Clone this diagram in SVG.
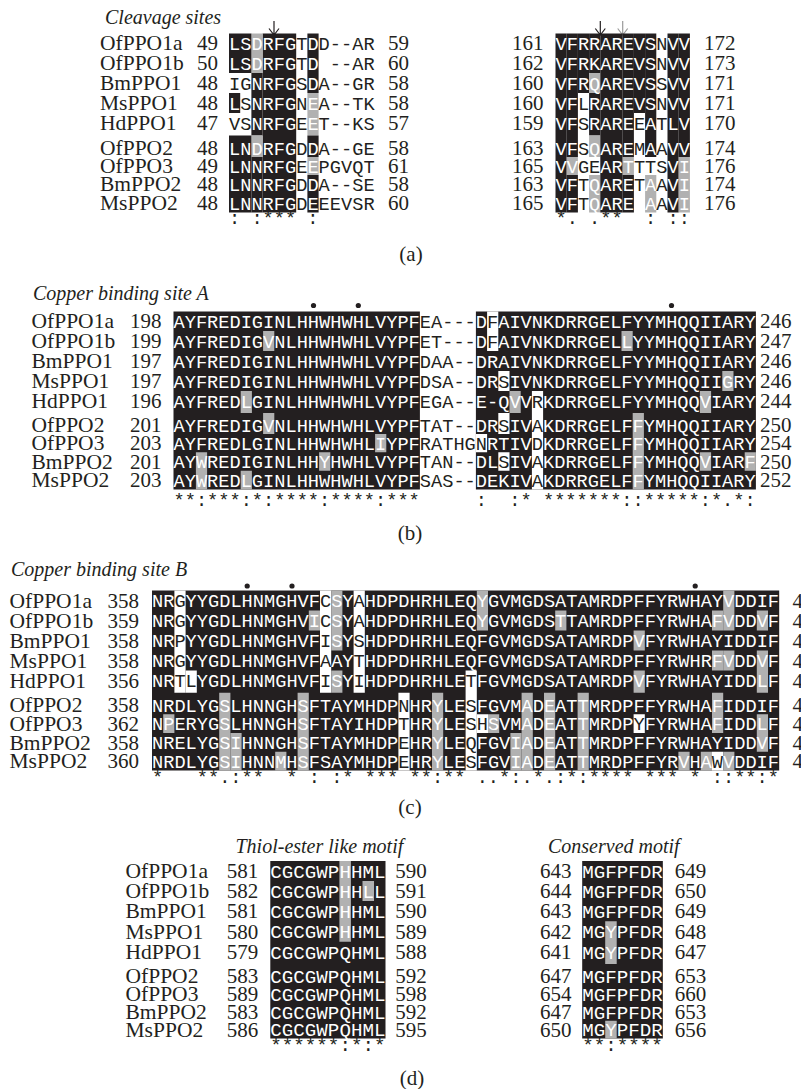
<svg xmlns="http://www.w3.org/2000/svg" width="801" height="1089" viewBox="0 0 801 1089">
<style>
.nm{font-family:"Liberation Serif","Times New Roman",serif;font-size:21.5px;fill:#231f20}
.num{font-family:"Liberation Serif","Times New Roman",serif;font-size:21px;fill:#231f20}
.ttl{font-family:"Liberation Serif","Times New Roman",serif;font-size:20px;font-style:italic;fill:#231f20}
.lbl{font-family:"Liberation Serif","Times New Roman",serif;font-size:21px;fill:#231f20;text-anchor:middle}
.sq{font-family:"Liberation Mono","Courier New",monospace;font-size:18.67px;fill:#231f20;white-space:pre}
.sqd{font-family:"Liberation Mono","Courier New",monospace;font-size:19.2px;fill:#231f20;white-space:pre}
.w{fill:#fff}
.k{fill:#231f20}
.g{fill:#b1b1b1}
.wb{fill:#fff}
.arr{stroke:#231f20;stroke-width:1.2;fill:none}
.arrg{stroke:#9a9a9a;stroke-width:1.2;fill:none}
.dot{fill:#231f20}
</style>

<!-- ================= Panel (a) ================= -->
<g id="panel-a">
<text class="ttl" x="105" y="23.5">Cleavage sites</text>
<g id="a-arrows">
<path class="arr" d="M274 21V35M269 28.5L274 35L279 28.5"/>
<path class="arr" d="M600.3 21V35M595.3 28.5L600.3 35L605.3 28.5"/>
<path class="arrg" d="M622.7 21V35M617.7 28.5L622.7 35L627.7 28.5"/>
</g>
<g id="a-shade-left">
<rect class="k" x="262.6" y="33.5" width="33.6" height="179"/>
<rect class="g" x="251.4" y="33.5" width="11.2" height="39.5"/>
<rect class="k" x="251.4" y="73" width="11.2" height="62.5"/>
<rect class="g" x="251.4" y="135.5" width="11.2" height="21.5"/>
<rect class="k" x="251.4" y="157" width="11.2" height="55.5"/>
<rect class="k" x="229" y="33.5" width="22.4" height="39.5"/>
<rect class="k" x="229" y="93" width="11.2" height="20"/>
<rect class="k" x="229" y="135.5" width="22.4" height="77"/>
<rect class="k" x="307.4" y="33.5" width="11.2" height="59.5"/>
<rect class="g" x="307.4" y="93" width="11.2" height="42.5"/>
<rect class="k" x="307.4" y="135.5" width="11.2" height="21.5"/>
<rect class="g" x="307.4" y="157" width="11.2" height="18"/>
<rect class="k" x="307.4" y="175" width="11.2" height="37.5"/>
</g>
<g id="a-shade-right">
<rect class="k" x="555.5" y="33.5" width="11.2" height="179"/>
<rect class="k" x="566.7" y="33.5" width="11.2" height="123.5"/>
<rect class="g" x="566.7" y="157" width="11.2" height="18"/>
<rect class="k" x="566.7" y="175" width="11.2" height="37.5"/>
<rect class="k" x="577.9" y="33.5" width="11.2" height="59.5"/>
<rect class="k" x="589.1" y="33.5" width="11.2" height="39.5"/>
<rect class="g" x="589.1" y="73" width="11.2" height="20"/>
<rect class="k" x="589.1" y="93" width="11.2" height="42.5"/>
<rect class="g" x="589.1" y="135.5" width="11.2" height="21.5"/>
<rect class="g" x="589.1" y="175" width="11.2" height="37.5"/>
<rect class="k" x="600.3" y="33.5" width="22.4" height="179"/>
<rect class="k" x="622.7" y="33.5" width="11.2" height="123.5"/>
<rect class="g" x="622.7" y="157" width="11.2" height="18"/>
<rect class="k" x="622.7" y="175" width="11.2" height="37.5"/>
<rect class="k" x="633.9" y="33.5" width="11.2" height="79.5"/>
<rect class="k" x="645.1" y="33.5" width="11.2" height="123.5"/>
<rect class="g" x="645.1" y="175" width="11.2" height="37.5"/>
<rect class="k" x="667.5" y="33.5" width="11.2" height="179"/>
<rect class="k" x="678.7" y="33.5" width="11.2" height="123.5"/>
<rect class="g" x="678.7" y="157" width="11.2" height="55.5"/>
</g>
<g id="a-names">
<text class="nm" x="100" y="50">OfPPO1a</text>
<text class="nm" x="100" y="70">OfPPO1b</text>
<text class="nm" x="100" y="90">BmPPO1</text>
<text class="nm" x="100" y="110">MsPPO1</text>
<text class="nm" x="100" y="130">HdPPO1</text>
<text class="nm" x="100" y="155">OfPPO2</text>
<text class="nm" x="100" y="173">OfPPO3</text>
<text class="nm" x="100" y="191">BmPPO2</text>
<text class="nm" x="100" y="210">MsPPO2</text>
</g>
<g id="a-nums">
<text class="num" x="197" y="50">49</text><text class="num" x="388" y="50">59</text><text class="num" x="512" y="50">161</text><text class="num" x="704" y="50">172</text>
<text class="num" x="197" y="70">50</text><text class="num" x="388" y="70">60</text><text class="num" x="512" y="70">162</text><text class="num" x="704" y="70">173</text>
<text class="num" x="197" y="90">48</text><text class="num" x="388" y="90">58</text><text class="num" x="512" y="90">160</text><text class="num" x="704" y="90">171</text>
<text class="num" x="197" y="110">48</text><text class="num" x="388" y="110">58</text><text class="num" x="512" y="110">160</text><text class="num" x="704" y="110">171</text>
<text class="num" x="197" y="130">47</text><text class="num" x="388" y="130">57</text><text class="num" x="512" y="130">159</text><text class="num" x="704" y="130">170</text>
<text class="num" x="197" y="155">48</text><text class="num" x="388" y="155">58</text><text class="num" x="512" y="155">163</text><text class="num" x="704" y="155">174</text>
<text class="num" x="197" y="173">49</text><text class="num" x="388" y="173">61</text><text class="num" x="512" y="173">165</text><text class="num" x="704" y="173">176</text>
<text class="num" x="197" y="191">48</text><text class="num" x="388" y="191">58</text><text class="num" x="512" y="191">163</text><text class="num" x="704" y="191">174</text>
<text class="num" x="197" y="210">48</text><text class="num" x="388" y="210">60</text><text class="num" x="512" y="210">165</text><text class="num" x="704" y="210">176</text>
</g>
<g id="a-seq-left">
<text class="sq" x="229" y="49.5" xml:space="preserve"><tspan class="w">LSDRFG</tspan>T<tspan class="w">D</tspan>D--AR</text>
<text class="sq" x="229" y="69.5" xml:space="preserve"><tspan class="w">LSDRFG</tspan>T<tspan class="w">D</tspan> --AR</text>
<text class="sq" x="229" y="89.5" xml:space="preserve">IG<tspan class="w">NRFG</tspan>S<tspan class="w">D</tspan>A--GR</text>
<text class="sq" x="229" y="109.5" xml:space="preserve"><tspan class="w">L</tspan>S<tspan class="w">NRFG</tspan>N<tspan class="w">E</tspan>A--TK</text>
<text class="sq" x="229" y="129.5" xml:space="preserve">VS<tspan class="w">NRFG</tspan>E<tspan class="w">E</tspan>T--KS</text>
<text class="sq" x="229" y="154.5" xml:space="preserve"><tspan class="w">LNDRFG</tspan>D<tspan class="w">D</tspan>A--GE</text>
<text class="sq" x="229" y="172.5" xml:space="preserve"><tspan class="w">LNNRFG</tspan>E<tspan class="w">E</tspan>PGVQT</text>
<text class="sq" x="229" y="190.5" xml:space="preserve"><tspan class="w">LNNRFG</tspan>D<tspan class="w">D</tspan>A--SE</text>
<text class="sq" x="229" y="209.5" xml:space="preserve"><tspan class="w">LNNRFG</tspan>D<tspan class="w">E</tspan>EEVSR</text>
<text class="sq" x="229" y="224" xml:space="preserve">: :*** :</text>
</g>
<g id="a-seq-right">
<text class="sq" x="555.5" y="49.5" xml:space="preserve"><tspan class="w">VFRRAREVS</tspan>N<tspan class="w">VV</tspan></text>
<text class="sq" x="555.5" y="69.5" xml:space="preserve"><tspan class="w">VFRKAREVS</tspan>N<tspan class="w">VV</tspan></text>
<text class="sq" x="555.5" y="89.5" xml:space="preserve"><tspan class="w">VFRQAREVS</tspan>S<tspan class="w">VV</tspan></text>
<text class="sq" x="555.5" y="109.5" xml:space="preserve"><tspan class="w">VF</tspan>L<tspan class="w">RAREVS</tspan>N<tspan class="w">VV</tspan></text>
<text class="sq" x="555.5" y="129.5" xml:space="preserve"><tspan class="w">VF</tspan>S<tspan class="w">RARE</tspan>E<tspan class="w">A</tspan>T<tspan class="w">LV</tspan></text>
<text class="sq" x="555.5" y="154.5" xml:space="preserve"><tspan class="w">VF</tspan>S<tspan class="w">QARE</tspan>M<tspan class="w">A</tspan>A<tspan class="w">VV</tspan></text>
<text class="sq" x="555.5" y="172.5" xml:space="preserve"><tspan class="w">VV</tspan>GE<tspan class="w">ART</tspan>TTS<tspan class="w">VI</tspan></text>
<text class="sq" x="555.5" y="190.5" xml:space="preserve"><tspan class="w">VF</tspan>T<tspan class="w">QARE</tspan>T<tspan class="w">A</tspan>A<tspan class="w">VI</tspan></text>
<text class="sq" x="555.5" y="209.5" xml:space="preserve"><tspan class="w">VF</tspan>T<tspan class="w">QARE</tspan> <tspan class="w">A</tspan>A<tspan class="w">VI</tspan></text>
<text class="sq" x="555.5" y="224" xml:space="preserve">*. .**  : ::</text>
</g>
<text class="lbl" x="411" y="261">(a)</text>
</g>

<!-- ================= Panel (b) ================= -->
<g id="panel-b">
<text class="ttl" x="33" y="300">Copper binding site A</text>
<g id="b-dots">
<circle class="dot" cx="313.5" cy="305.5" r="2.6"/>
<circle class="dot" cx="358.3" cy="305.5" r="2.6"/>
<circle class="dot" cx="671.5" cy="305.5" r="2.6"/>
</g>
<g id="b-shade">
<rect class="k" x="173.5" y="311.5" width="246.4" height="178"/>
<rect class="k" x="475.9" y="311.5" width="280" height="178"/>
<rect class="wb" x="475.9" y="434" width="11.2" height="18.25"/>
<rect class="wb" x="487.1" y="311.5" width="11.2" height="39.5"/>
<rect class="wb" x="498.3" y="371" width="11.2" height="20"/>
<rect class="wb" x="498.3" y="413" width="11.2" height="21"/>
<rect class="wb" x="498.3" y="452.25" width="11.2" height="18.5"/>
<rect class="wb" x="531.9" y="391" width="11.2" height="98.5"/>
<rect class="g" x="263.1" y="331" width="11.2" height="20"/>
<rect class="g" x="263.1" y="413" width="11.2" height="21"/>
<rect class="g" x="240.7" y="391" width="11.2" height="22"/>
<rect class="g" x="240.7" y="470.75" width="11.2" height="18.75"/>
<rect class="g" x="375.1" y="434" width="11.2" height="18.25"/>
<rect class="g" x="195.9" y="452.25" width="11.2" height="37.25"/>
<rect class="g" x="319.1" y="452.25" width="11.2" height="18.5"/>
<rect class="g" x="509.5" y="391" width="11.2" height="22"/>
<rect class="g" x="621.5" y="331" width="11.2" height="20"/>
<rect class="g" x="632.7" y="413" width="11.2" height="76.5"/>
<rect class="g" x="722.3" y="371" width="11.2" height="20"/>
<rect class="g" x="699.9" y="391" width="11.2" height="22"/>
<rect class="g" x="699.9" y="452.25" width="11.2" height="18.5"/>
<rect class="g" x="744.7" y="452.25" width="11.2" height="18.5"/>
</g>
<g id="b-names">
<text class="nm" x="31.5" y="328">OfPPO1a</text>
<text class="nm" x="31.5" y="348">OfPPO1b</text>
<text class="nm" x="31.5" y="368">BmPPO1</text>
<text class="nm" x="31.5" y="388">MsPPO1</text>
<text class="nm" x="31.5" y="408">HdPPO1</text>
<text class="nm" x="31.5" y="432">OfPPO2</text>
<text class="nm" x="31.5" y="450">OfPPO3</text>
<text class="nm" x="31.5" y="468.5">BmPPO2</text>
<text class="nm" x="31.5" y="487">MsPPO2</text>
</g>
<g id="b-nums">
<text class="num" x="130" y="328">198</text><text class="num" x="760" y="328">246</text>
<text class="num" x="130" y="348">199</text><text class="num" x="760" y="348">247</text>
<text class="num" x="130" y="368">197</text><text class="num" x="760" y="368">246</text>
<text class="num" x="130" y="388">197</text><text class="num" x="760" y="388">246</text>
<text class="num" x="130" y="408">196</text><text class="num" x="760" y="408">244</text>
<text class="num" x="130" y="432">201</text><text class="num" x="760" y="432">250</text>
<text class="num" x="130" y="450">203</text><text class="num" x="760" y="450">254</text>
<text class="num" x="130" y="468.5">201</text><text class="num" x="760" y="468.5">250</text>
<text class="num" x="130" y="487">203</text><text class="num" x="760" y="487">252</text>
</g>
<g id="b-seq">
<text class="sq" x="173.5" y="327.5" xml:space="preserve"><tspan class="w">AYFREDIGINLHHWHWHLVYPF</tspan>EA---<tspan class="w">D</tspan>F<tspan class="w">AIVNKDRRGELFYYMHQQIIARY</tspan></text>
<text class="sq" x="173.5" y="347.5" xml:space="preserve"><tspan class="w">AYFREDIGVNLHHWHWHLVYPF</tspan>ET---<tspan class="w">D</tspan>F<tspan class="w">AIVNKDRRGELLYYMHQQIIARY</tspan></text>
<text class="sq" x="173.5" y="367.5" xml:space="preserve"><tspan class="w">AYFREDIGINLHHWHWHLVYPF</tspan>DAA--<tspan class="w">DRAIVNKDRRGELFYYMHQQIIARY</tspan></text>
<text class="sq" x="173.5" y="387.5" xml:space="preserve"><tspan class="w">AYFREDIGINLHHWHWHLVYPF</tspan>DSA--<tspan class="w">DR</tspan>S<tspan class="w">IVNKDRRGELFYYMHQQIIGRY</tspan></text>
<text class="sq" x="173.5" y="407.5" xml:space="preserve"><tspan class="w">AYFREDLGINLHHWHWHLVYPF</tspan>EGA--<tspan class="w">E-QVV</tspan>R<tspan class="w">KDRRGELFYYMHQQVIARY</tspan></text>
<text class="sq" x="173.5" y="431.5" xml:space="preserve"><tspan class="w">AYFREDIGVNLHHWHWHLVYPF</tspan>TAT--<tspan class="w">DR</tspan>S<tspan class="w">IV</tspan>A<tspan class="w">KDRRGELFFYMHQQIIARY</tspan></text>
<text class="sq" x="173.5" y="449.5" xml:space="preserve"><tspan class="w">AYFREDLGINLHHWHWHLIYPF</tspan>RATHGN<tspan class="w">RTIV</tspan>D<tspan class="w">KDRRGELFFYMHQQIIARY</tspan></text>
<text class="sq" x="173.5" y="468" xml:space="preserve"><tspan class="w">AYWREDIGINLHHYHWHLVYPF</tspan>TAN--<tspan class="w">DL</tspan>S<tspan class="w">IV</tspan>A<tspan class="w">KDRRGELFFYMHQQVIARF</tspan></text>
<text class="sq" x="173.5" y="486.5" xml:space="preserve"><tspan class="w">AYWREDLGINLHHWHWHLVYPF</tspan>SAS--<tspan class="w">DEKIV</tspan>A<tspan class="w">KDRRGELFFYMHQQIIARY</tspan></text>
<text class="sq" x="173.5" y="506" xml:space="preserve">**:***:*:****:****:***     :  :* *******::*****:*.*:</text>
</g>
<text class="lbl" x="410" y="540">(b)</text>
</g>

<!-- ================= Panel (c) ================= -->
<g id="panel-c">
<text class="ttl" x="11" y="576">Copper binding site B</text>
<g id="c-dots">
<circle class="dot" cx="247.2" cy="586" r="2.6"/>
<circle class="dot" cx="292" cy="586" r="2.6"/>
<circle class="dot" cx="695.2" cy="586" r="2.6"/>
</g>
<g id="c-shade">
<rect class="k" x="152" y="590.5" width="627.2" height="180"/>
<rect class="wb" x="174.4" y="590.5" width="11.2" height="102.25"/>
<rect class="wb" x="185.6" y="670.5" width="11.2" height="22.25"/>
<rect class="wb" x="320" y="590.5" width="11.2" height="102.25"/>
<rect class="wb" x="353.6" y="590.5" width="11.2" height="102.25"/>
<rect class="wb" x="398.4" y="692.75" width="11.2" height="77.75"/>
<rect class="wb" x="465.6" y="670.5" width="11.2" height="100"/>
<rect class="wb" x="476.8" y="714.25" width="11.2" height="18.75"/>
<rect class="wb" x="633.6" y="714.25" width="11.2" height="18.75"/>
<rect class="wb" x="712" y="751.75" width="11.2" height="18.75"/>
<rect class="g" x="163.2" y="714.25" width="11.2" height="18.75"/>
<rect class="g" x="219.2" y="692.75" width="11.2" height="77.75"/>
<rect class="g" x="230.4" y="733" width="11.2" height="37.5"/>
<rect class="g" x="275.2" y="751.75" width="11.2" height="18.75"/>
<rect class="g" x="297.6" y="692.75" width="11.2" height="77.75"/>
<rect class="g" x="308.8" y="610.5" width="11.2" height="20"/>
<rect class="g" x="331.2" y="590.5" width="11.2" height="60"/>
<rect class="g" x="331.2" y="670.5" width="11.2" height="22.25"/>
<rect class="g" x="432" y="692.75" width="11.2" height="77.75"/>
<rect class="g" x="476.8" y="590.5" width="11.2" height="40"/>
<rect class="g" x="488" y="714.25" width="11.2" height="18.75"/>
<rect class="g" x="510.4" y="733" width="11.2" height="37.5"/>
<rect class="g" x="521.6" y="692.75" width="11.2" height="77.75"/>
<rect class="g" x="544" y="692.75" width="11.2" height="77.75"/>
<rect class="g" x="555.2" y="610.5" width="11.2" height="20"/>
<rect class="g" x="577.6" y="692.75" width="11.2" height="77.75"/>
<rect class="g" x="633.6" y="630.5" width="11.2" height="20"/>
<rect class="g" x="633.6" y="670.5" width="11.2" height="22.25"/>
<rect class="g" x="678.4" y="751.75" width="11.2" height="18.75"/>
<rect class="g" x="700.8" y="751.75" width="11.2" height="18.75"/>
<rect class="g" x="712" y="610.5" width="11.2" height="20"/>
<rect class="g" x="712" y="650.5" width="11.2" height="20"/>
<rect class="g" x="712" y="692.75" width="11.2" height="40.25"/>
<rect class="g" x="723.2" y="590.5" width="11.2" height="40"/>
<rect class="g" x="723.2" y="650.5" width="11.2" height="20"/>
<rect class="g" x="723.2" y="751.75" width="11.2" height="18.75"/>
<rect class="g" x="756.8" y="610.5" width="11.2" height="20"/>
<rect class="g" x="756.8" y="650.5" width="11.2" height="42.25"/>
<rect class="g" x="756.8" y="714.25" width="11.2" height="37.5"/>
</g>
<g id="c-names">
<text class="nm" x="9.5" y="607.5">OfPPO1a</text>
<text class="nm" x="9.5" y="627.5">OfPPO1b</text>
<text class="nm" x="9.5" y="647.5">BmPPO1</text>
<text class="nm" x="9.5" y="667.5">MsPPO1</text>
<text class="nm" x="9.5" y="687.5">HdPPO1</text>
<text class="nm" x="9.5" y="712">OfPPO2</text>
<text class="nm" x="9.5" y="730.5">OfPPO3</text>
<text class="nm" x="9.5" y="749.5">BmPPO2</text>
<text class="nm" x="9.5" y="768">MsPPO2</text>
</g>
<g id="c-nums">
<text class="num" x="107.5" y="607.5">358</text><text class="num" x="792.5" y="607.5">4</text>
<text class="num" x="107.5" y="627.5">359</text><text class="num" x="792.5" y="627.5">4</text>
<text class="num" x="107.5" y="647.5">358</text><text class="num" x="792.5" y="647.5">4</text>
<text class="num" x="107.5" y="667.5">358</text><text class="num" x="792.5" y="667.5">4</text>
<text class="num" x="107.5" y="687.5">356</text><text class="num" x="792.5" y="687.5">4</text>
<text class="num" x="107.5" y="712">358</text><text class="num" x="792.5" y="712">4</text>
<text class="num" x="107.5" y="730.5">362</text><text class="num" x="792.5" y="730.5">4</text>
<text class="num" x="107.5" y="749.5">358</text><text class="num" x="792.5" y="749.5">4</text>
<text class="num" x="107.5" y="768">360</text><text class="num" x="792.5" y="768">4</text>
</g>
<g id="c-seq">
<text class="sq" x="152" y="607" xml:space="preserve"><tspan class="w">NR</tspan>G<tspan class="w">YYGDLHNMGHVF</tspan>C<tspan class="w">SY</tspan>A<tspan class="w">HDPDHRHLEQYGVMGDSATAMRDPFFYRWHAYVDDIF</tspan></text>
<text class="sq" x="152" y="627" xml:space="preserve"><tspan class="w">NR</tspan>G<tspan class="w">YYGDLHNMGHVI</tspan>C<tspan class="w">SY</tspan>A<tspan class="w">HDPDHRHLEQYGVMGDSTTAMRDPFFYRWHAFVDDVF</tspan></text>
<text class="sq" x="152" y="647" xml:space="preserve"><tspan class="w">NR</tspan>P<tspan class="w">YYGDLHNMGHVF</tspan>I<tspan class="w">SY</tspan>S<tspan class="w">HDPDHRHLEQFGVMGDSATAMRDPVFYRWHAYIDDIF</tspan></text>
<text class="sq" x="152" y="667" xml:space="preserve"><tspan class="w">NR</tspan>G<tspan class="w">YYGDLHNMGHVF</tspan>A<tspan class="w">AY</tspan>T<tspan class="w">HDPDHRHLEQFGVMGDSATAMRDPFFYRWHRFVDDVF</tspan></text>
<text class="sq" x="152" y="687" xml:space="preserve"><tspan class="w">NR</tspan>TL<tspan class="w">YGDLHNMGHVF</tspan>I<tspan class="w">SY</tspan>I<tspan class="w">HDPDHRHLE</tspan>T<tspan class="w">FGVMGDSATAMRDPVFYRWHAYIDDLF</tspan></text>
<text class="sq" x="152" y="711.5" xml:space="preserve"><tspan class="w">NRDLYGSLHNNGHSFTAYMHDP</tspan>N<tspan class="w">HRYLE</tspan>S<tspan class="w">FGVMADEATTMRDPFFYRWHAFIDDIF</tspan></text>
<text class="sq" x="152" y="730" xml:space="preserve"><tspan class="w">NPERYGSLHNNGHSFTAYIHDP</tspan>T<tspan class="w">HRYLE</tspan>SH<tspan class="w">SVMADEATTMRDP</tspan>Y<tspan class="w">FYRWHAFIDDLF</tspan></text>
<text class="sq" x="152" y="749" xml:space="preserve"><tspan class="w">NRELYGSIHNNGHSFTAYMHDP</tspan>E<tspan class="w">HRYLE</tspan>Q<tspan class="w">FGVIADEATTMRDPFFYRWHAYIDDVF</tspan></text>
<text class="sq" x="152" y="767.5" xml:space="preserve"><tspan class="w">NRDLYGSIHNNMHSFSAYMHDP</tspan>E<tspan class="w">HRYLE</tspan>S<tspan class="w">FGVIADEATTMRDPFFYRVHA</tspan>W<tspan class="w">VDDIF</tspan></text>
<text class="sq" x="152" y="783" xml:space="preserve">*   **.:**  * : :* *** **:** ..*:.*.:*:**** *** * ::**:*</text>
</g>
<text class="lbl" x="410" y="814">(c)</text>
</g>

<!-- ================= Panel (d) ================= -->
<g id="panel-d">
<text class="ttl" x="235.5" y="853">Thiol-ester like motif</text>
<text class="ttl" x="548" y="853">Conserved motif</text>
<g id="d-shade">
<rect class="k" x="270.3" y="861" width="115.2" height="177.5"/>
<rect class="g" x="339.4" y="861" width="11.52" height="80.75"/>
<rect class="g" x="362.5" y="881" width="11.52" height="20"/>
<rect class="k" x="582.2" y="861" width="80.64" height="177.5"/>
<rect class="g" x="605.2" y="921.25" width="11.52" height="42.75"/>
<rect class="g" x="605.2" y="1020.75" width="11.52" height="17.75"/>
</g>
<g id="d-names">
<text class="nm" x="125.5" y="878">OfPPO1a</text>
<text class="nm" x="125.5" y="898">OfPPO1b</text>
<text class="nm" x="125.5" y="918">BmPPO1</text>
<text class="nm" x="125.5" y="938.5">MsPPO1</text>
<text class="nm" x="125.5" y="959">HdPPO1</text>
<text class="nm" x="125.5" y="983">OfPPO2</text>
<text class="nm" x="125.5" y="1001">OfPPO3</text>
<text class="nm" x="125.5" y="1019">BmPPO2</text>
<text class="nm" x="125.5" y="1036.5">MsPPO2</text>
</g>
<g id="d-nums">
<text class="num" x="226.8" y="878">581</text><text class="num" x="395.3" y="878">590</text><text class="num" x="540" y="878">643</text><text class="num" x="674.8" y="878">649</text>
<text class="num" x="226.8" y="898">582</text><text class="num" x="395.3" y="898">591</text><text class="num" x="540" y="898">644</text><text class="num" x="674.8" y="898">650</text>
<text class="num" x="226.8" y="918">581</text><text class="num" x="395.3" y="918">590</text><text class="num" x="540" y="918">643</text><text class="num" x="674.8" y="918">649</text>
<text class="num" x="226.8" y="938.5">580</text><text class="num" x="395.3" y="938.5">589</text><text class="num" x="540" y="938.5">642</text><text class="num" x="674.8" y="938.5">648</text>
<text class="num" x="226.8" y="959">579</text><text class="num" x="395.3" y="959">588</text><text class="num" x="540" y="959">641</text><text class="num" x="674.8" y="959">647</text>
<text class="num" x="226.8" y="983">583</text><text class="num" x="395.3" y="983">592</text><text class="num" x="540" y="983">647</text><text class="num" x="674.8" y="983">653</text>
<text class="num" x="226.8" y="1001">589</text><text class="num" x="395.3" y="1001">598</text><text class="num" x="540" y="1001">654</text><text class="num" x="674.8" y="1001">660</text>
<text class="num" x="226.8" y="1019">583</text><text class="num" x="395.3" y="1019">592</text><text class="num" x="540" y="1019">647</text><text class="num" x="674.8" y="1019">653</text>
<text class="num" x="226.8" y="1036.5">586</text><text class="num" x="395.3" y="1036.5">595</text><text class="num" x="540" y="1036.5">650</text><text class="num" x="674.8" y="1036.5">656</text>
</g>
<g id="d-seq" class="w">
<text class="sqd w" x="270.3" y="877.6">CGCGWPHHML</text>
<text class="sqd w" x="270.3" y="897.6">CGCGWPHHLL</text>
<text class="sqd w" x="270.3" y="917.6">CGCGWPHHML</text>
<text class="sqd w" x="270.3" y="938.1">CGCGWPHHML</text>
<text class="sqd w" x="270.3" y="958.6">CGCGWPQHML</text>
<text class="sqd w" x="270.3" y="982.6">CGCGWPQHML</text>
<text class="sqd w" x="270.3" y="1000.6">CGCGWPQHML</text>
<text class="sqd w" x="270.3" y="1018.6">CGCGWPQHML</text>
<text class="sqd w" x="270.3" y="1036.1">CGCGWPQHML</text>
<text class="sqd w" x="582.2" y="877.6">MGFPFDR</text>
<text class="sqd w" x="582.2" y="897.6">MGFPFDR</text>
<text class="sqd w" x="582.2" y="917.6">MGFPFDR</text>
<text class="sqd w" x="582.2" y="938.1">MGYPFDR</text>
<text class="sqd w" x="582.2" y="958.6">MGYPFDR</text>
<text class="sqd w" x="582.2" y="982.6">MGFPFDR</text>
<text class="sqd w" x="582.2" y="1000.6">MGFPFDR</text>
<text class="sqd w" x="582.2" y="1018.6">MGFPFDR</text>
<text class="sqd w" x="582.2" y="1036.1">MGYPFDR</text>
</g>
<text class="sqd" x="270.3" y="1051" xml:space="preserve">******:*:*</text>
<text class="sqd" x="582.2" y="1051" xml:space="preserve">**:****</text>
<text class="lbl" x="412" y="1085">(d)</text>
</g>
</svg>
